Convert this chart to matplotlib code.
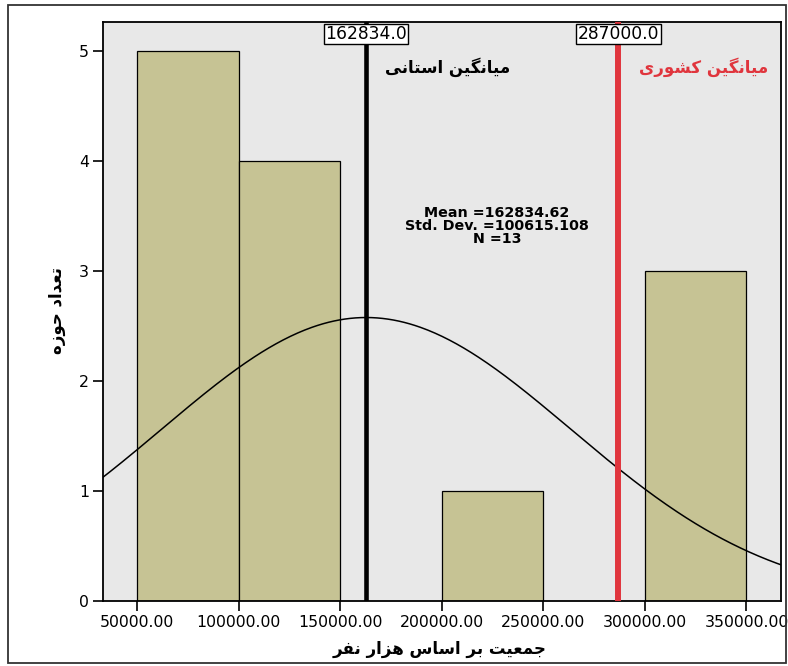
import matplotlib
matplotlib.use('Agg')
import matplotlib.pyplot as plt
import numpy as np
from matplotlib.patches import Rectangle
import matplotlib.transforms as mtransforms

# histogram data (SPSS output)
bin_left = [50000, 100000, 200000, 300000]
counts = [5, 4, 1, 3]
bin_width = 50000
mean_val = 162834.62
std_val = 100615.108
n_val = 13
prov_mean = 162834.0
nat_mean = 287000.0
xticks = [50000, 100000, 150000, 200000, 250000, 300000, 350000]
yticks = [0, 1, 2, 3, 4, 5]

txt_prov = 'میانگین استانی'
txt_nat = 'میانگین کشوری'
txt_x = 'جمعیت بر اساس هزار نفر'
txt_y = 'تعداد حوزه'

# simple persian shaping (matplotlib does no arabic shaping / bidi)
ISO = {'ا': 0xFE8D, 'ب': 0xFE8F, 'ت': 0xFE95, 'ج': 0xFE9D, 'ح': 0xFEA1,
       'د': 0xFEA9, 'ر': 0xFEAD, 'ز': 0xFEAF, 'س': 0xFEB1, 'ش': 0xFEB5,
       'ع': 0xFEC9, 'ف': 0xFED1, 'م': 0xFEE1, 'ن': 0xFEE5, 'ه': 0xFEE9,
       'و': 0xFEED, 'ک': 0xFB8E, 'گ': 0xFB92, 'ی': 0xFBFC}
RIGHT_ONLY = set('ادرزو')

def shape(s):
    out = []
    for i, c in enumerate(s):
        if c not in ISO:
            out.append(c)
            continue
        prev = s[i-1] if i > 0 else ''
        nxt = s[i+1] if i+1 < len(s) else ''
        jp = prev in ISO and prev not in RIGHT_ONLY
        jn = c not in RIGHT_ONLY and nxt in ISO
        off = 3 if (jp and jn) else 1 if jp else 2 if jn else 0
        out.append(chr(ISO[c] + off))
    return ''.join(reversed(out))

fig = plt.figure(figsize=(7.88, 6.66), dpi=100)
ax = fig.add_axes([103/788, 1-601/666, 678/788, 579/666])
ax.set_facecolor('#e8e8e8')

# outer frame
fig.patches.append(Rectangle((8/788, 1-663/666), 778/788, 658/666, transform=fig.transFigure,
                             fill=False, edgecolor='#333333', linewidth=1.3))

ax.bar(bin_left, counts, width=bin_width, align='edge', color='#c6c394',
       edgecolor='black', linewidth=0.9, zorder=2)

xs = np.linspace(25000, 380000, 400)
ys = n_val*bin_width/(std_val*np.sqrt(2*np.pi))*np.exp(-0.5*((xs-mean_val)/std_val)**2)
ax.plot(xs, ys, color='black', linewidth=1.1, zorder=3)

ax.axvline(prov_mean, color='black', linewidth=3.3, zorder=4)
ax.axvline(nat_mean, color='#e0353d', linewidth=4.3, zorder=4)

trans = mtransforms.blended_transform_factory(ax.transData, ax.transAxes)
for v in [prov_mean, nat_mean]:
    ax.text(v, 0.995, '%.1f' % v, transform=trans, ha='center', va='top', fontsize=12.3,
            family='DejaVu Sans', zorder=5,
            bbox=dict(boxstyle='square,pad=0.08', facecolor='white', edgecolor='black', linewidth=1))

ax.text(203000, 4.85, shape(txt_prov), ha='center', va='center', fontsize=12,
        fontweight='bold', color='black', family='DejaVu Sans', zorder=5)
ax.text(329000, 4.85, shape(txt_nat), ha='center', va='center', fontsize=12,
        fontweight='bold', color='#e0353d', family='DejaVu Sans', zorder=5)

ax.text(0.581, 0.648, 'Mean =%.2f\nStd. Dev. =%.3f\nN =%d' % (mean_val, std_val, n_val),
        transform=ax.transAxes, ha='center', va='center', fontsize=10.3, fontweight='bold',
        family='DejaVu Sans', linespacing=0.92, zorder=5)

ax.set_xlim(33300, 367000)
ax.set_ylim(0, 5.264)
ax.set_xticks(xticks)
ax.set_xticklabels(['%.2f' % v for v in xticks])
ax.set_yticks(yticks)
ax.tick_params(direction='out', length=7, width=1.2, labelsize=11.3, pad=3, colors='black')
for s in ax.spines.values():
    s.set_linewidth(1.3)

fig.text(440/788, 1-649/666, shape(txt_x), ha='center', va='center', fontsize=12,
         fontweight='bold', family='DejaVu Sans')
fig.text(57/788, 1-310/666, shape(txt_y), ha='center', va='center', fontsize=12,
         fontweight='bold', rotation=90, family='DejaVu Sans')

fig.savefig('out.png', dpi=100)
